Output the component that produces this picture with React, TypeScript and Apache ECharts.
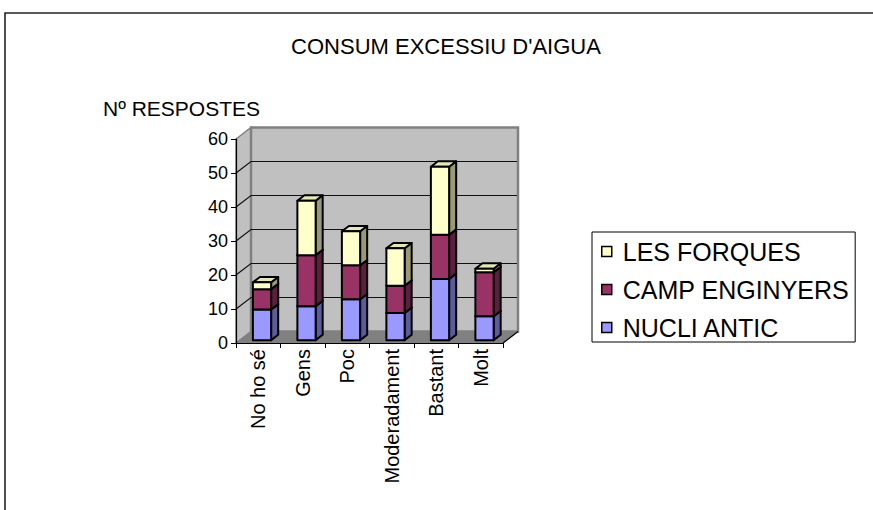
import React, { useEffect, useRef } from "react";
import * as echarts from "echarts";

const categories = ["No ho sé", "Gens", "Poc", "Moderadament", "Bastant", "Molt"];
const nucliAntic = [9, 10, 12, 8, 18, 7];
const campEnginyers = [6, 15, 10, 8, 13, 13];
const lesForques = [2, 16, 10, 11, 20, 1];
const yTicks = [0, 10, 20, 30, 40, 50, 60];
const seriesNames = ["NUCLI ANTIC", "CAMP ENGINYERS", "LES FORQUES"];
const legendOrder = ["LES FORQUES", "CAMP ENGINYERS", "NUCLI ANTIC"];
const seriesValues = [nucliAntic, campEnginyers, lesForques];
const frontColors = ["#9999FF", "#993366", "#FFFFCC"];
const sideColors = ["#5C5C99", "#5C1F3D", "#99997A"];
const topColors = ["#7A7ACC", "#7A2952", "#E6E6B8"];
const titleText = "CONSUM EXCESSIU D'AIGUA";
const yAxisTitle = "Nº RESPOSTES";

const FONT = "'Liberation Sans', Arial, sans-serif";
const DEPTH_X = 15;
const DEPTH_Y = 11.5;
const T_FRONT = 0.25;
const T_BACK = 0.72;
const BAR_RATIO = 0.41;

export default function App() {
  const ref = useRef<HTMLDivElement>(null);

  useEffect(() => {
    if (!ref.current) return;
    const chart = echarts.init(ref.current, null, { renderer: "svg" });

    const stacked = seriesValues.map((vals, si) =>
      vals.map((v, ci) => {
        let base = 0;
        for (let k = 0; k < si; k++) base += seriesValues[k][ci];
        return [ci, base, base + v];
      })
    );

    const wallsSeries: any = {
      type: "custom",
      name: "walls",
      z: 1,
      silent: true,
      data: [[0]],
      renderItem: (params: any, api: any) => {
        const cs = params.coordSys;
        const x0 = cs.x;
        const x1 = cs.x + cs.width;
        const yT = cs.y;
        const yB = cs.y + cs.height;
        const children: any[] = [];
        children.push({
          type: "polygon",
          shape: { points: [[x0, yT], [x0 + DEPTH_X, yT - DEPTH_Y], [x0 + DEPTH_X, yB - DEPTH_Y], [x0, yB]] },
          style: { fill: "#C0C0C0", stroke: "#808080", lineWidth: 1.5 },
        });
        children.push({
          type: "rect",
          shape: { x: x0 + DEPTH_X, y: yT - DEPTH_Y, width: cs.width, height: cs.height },
          style: { fill: "#C0C0C0", stroke: "#808080", lineWidth: 2.5 },
        });
        children.push({
          type: "polygon",
          shape: { points: [[x0, yB], [x1, yB], [x1 + DEPTH_X, yB - DEPTH_Y], [x0 + DEPTH_X, yB - DEPTH_Y]] },
          style: { fill: "#808080", stroke: "#808080", lineWidth: 1 },
        });
        yTicks.forEach((v) => {
          if (v === yTicks[0] || v === yTicks[yTicks.length - 1]) return;
          const y = api.coord([0, v])[1];
          children.push({
            type: "polyline",
            shape: { points: [[x0, y], [x0 + DEPTH_X, y - DEPTH_Y], [x1 + DEPTH_X - 1, y - DEPTH_Y]] },
            style: { fill: "none", stroke: "#111", lineWidth: 1.2 },
          });
        });
        children.push({
          type: "line",
          shape: { x1: x1, y1: yB, x2: x1 + DEPTH_X, y2: yB - DEPTH_Y },
          style: { stroke: "#000", lineWidth: 1.2 },
        });
        return { type: "group", children };
      },
    };

    const barSeries = seriesNames.map((name, si) => ({
      type: "custom",
      name,
      z: 2,
      itemStyle: { color: frontColors[si], borderColor: "#000", borderWidth: 1.5 },
      encode: { x: 0, y: [1, 2] },
      data: stacked[si],
      renderItem: (params: any, api: any) => {
        const ci = api.value(0);
        const base = api.value(1);
        const top = api.value(2);
        if (top - base <= 0) return null;
        const p0 = api.coord([ci, base]);
        const p1 = api.coord([ci, top]);
        const band = api.size([1, 0])[0];
        const w = band * BAR_RATIO;
        const cx = p0[0] + DEPTH_X * T_FRONT;
        const xl = cx - w / 2;
        const xr = cx + w / 2;
        const yb = p0[1] - DEPTH_Y * T_FRONT;
        const yt = p1[1] - DEPTH_Y * T_FRONT;
        const ddx = DEPTH_X * (T_BACK - T_FRONT);
        const ddy = DEPTH_Y * (T_BACK - T_FRONT);
        const st = { stroke: "#000", lineWidth: 2, lineJoin: "round" };
        return {
          type: "group",
          children: [
            {
              type: "polygon",
              shape: { points: [[xr, yb], [xr + ddx, yb - ddy], [xr + ddx, yt - ddy], [xr, yt]] },
              style: { fill: sideColors[si], ...st },
            },
            {
              type: "polygon",
              shape: { points: [[xl, yt], [xr, yt], [xr + ddx, yt - ddy], [xl + ddx, yt - ddy]] },
              style: { fill: topColors[si], ...st },
            },
            {
              type: "rect",
              shape: { x: xl, y: yt, width: w, height: yb - yt },
              style: { fill: frontColors[si], ...st },
            },
          ],
        };
      },
    }));

    const option: any = {
      animation: false,
      backgroundColor: "#ffffff",
      textStyle: { fontFamily: FONT },
      graphic: [
        {
          type: "rect",
          shape: { x: 5, y: 13, width: 1000, height: 800 },
          style: { fill: "none", stroke: "#222", lineWidth: 1.6 },
          silent: true,
        },
        {
          type: "text",
          x: 446,
          y: 46,
          style: {
            text: titleText,
            font: `22px ${FONT}`,
            fill: "#000",
            textAlign: "center",
            textVerticalAlign: "middle",
          },
        },
        {
          type: "text",
          x: 103,
          y: 108,
          style: {
            text: yAxisTitle,
            font: `21px ${FONT}`,
            fill: "#000",
            textAlign: "left",
            textVerticalAlign: "middle",
          },
        },
      ],
      legend: {
        orient: "vertical",
        left: 592,
        top: 232,
        padding: [7, 6, 2, 9],
        itemGap: 13,
        itemWidth: 10,
        itemHeight: 10,
        icon: "rect",
        borderColor: "#000",
        borderWidth: 1,
        data: legendOrder,
        itemStyle: { borderColor: "#000", borderWidth: 1.5 },
        textStyle: { fontSize: 25, lineHeight: 25, color: "#000", fontFamily: FONT, padding: [0, 0, 0, 6] },
      },
      grid: { left: 236, top: 139, width: 267, height: 204, containLabel: false },
      xAxis: {
        type: "category",
        data: categories,
        z: 3,
        axisLine: { lineStyle: { color: "#000", width: 1.2 } },
        axisTick: { show: true, length: 5, lineStyle: { color: "#000" } },
        axisLabel: { rotate: 90, fontSize: 20, color: "#000", margin: 6, interval: 0, fontFamily: FONT },
        splitLine: { show: false },
      },
      yAxis: {
        type: "value",
        min: 0,
        max: 60,
        interval: 10,
        z: 3,
        axisLine: { show: true, lineStyle: { color: "#000", width: 1.2 } },
        axisTick: { show: true, length: 5, lineStyle: { color: "#000" } },
        axisLabel: { fontSize: 18, color: "#000", margin: 8, fontFamily: FONT },
        splitLine: { show: false },
      },
      series: [wallsSeries, ...barSeries],
    };

    chart.setOption(option);
    return () => chart.dispose();
  }, []);

  return (
    <div
      ref={ref}
      style={{ position: "absolute", left: 0, top: 0, width: 873, height: 510, background: "#fff" }}
    />
  );
}
